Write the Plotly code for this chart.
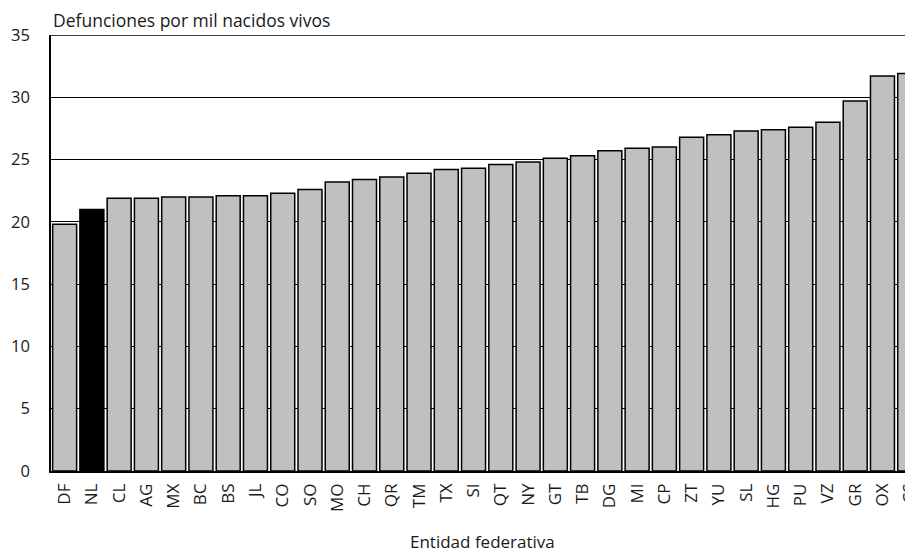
import plotly.graph_objects as go

states = ["DF","NL","CL","AG","MX","BC","BS","JL","CO","SO","MO","CH","QR","TM","TX","SI",
          "QT","NY","GT","TB","DG","MI","CP","ZT","YU","SL","HG","PU","VZ","GR","OX","CS"]
values = [19.8,21.0,21.9,21.9,22.0,22.0,22.1,22.1,22.3,22.6,23.2,23.4,23.6,23.9,24.2,24.3,
          24.6,24.8,25.1,25.3,25.7,25.9,26.0,26.8,27.0,27.3,27.4,27.6,28.0,29.7,31.7,31.9]
highlight = "NL"
y_ticks = [0,5,10,15,20,25,30,35]

colors = ["#000000" if s == highlight else "#c0c0c0" for s in states]
FONT = "Open Sans"

fig = go.Figure(go.Bar(
    x=states, y=values,
    marker=dict(color=colors, line=dict(color="#000000", width=1.5)),
))
fig.update_layout(
    width=905, height=544,
    margin=dict(l=43, r=0, t=27, b=81, autoexpand=False),
    plot_bgcolor="white", paper_bgcolor="white",
    bargap=0.12,
    showlegend=False,
    font=dict(family=FONT, size=16, color="#1a1a1a"),
    xaxis=dict(
        type="category", range=[-0.5, 31.12], tickangle=-90, automargin=False,
        showgrid=False, showline=True, linecolor="#000000", linewidth=1.5,
        ticks="", tickfont=dict(size=17), ticklabelstandoff=4,
    ),
    yaxis=dict(
        range=[0, 35], tickvals=y_ticks, showgrid=True, gridcolor="#000000", gridwidth=1,
        showline=True, linecolor="#000000", linewidth=1.5, ticks="", zeroline=False,
        tickfont=dict(size=16.5), automargin=False, ticklabelstandoff=16,
    ),
    shapes=[dict(type="line", xref="paper", yref="y", x0=0, x1=1, y0=35, y1=35,
                 line=dict(color="#000000", width=1.5))],
    annotations=[
        dict(text="Defunciones por mil nacidos vivos", xref="paper", yref="paper",
             x=0.0, y=1.0, xanchor="left", yanchor="bottom", yshift=1, xshift=0,
             showarrow=False, font=dict(size=17.5)),
        dict(text="Entidad federativa", xref="paper", yref="paper",
             x=0.5, y=-70/436, xanchor="center", yanchor="middle",
             showarrow=False, font=dict(size=17)),
    ],
)
fig.write_html("out.html")
